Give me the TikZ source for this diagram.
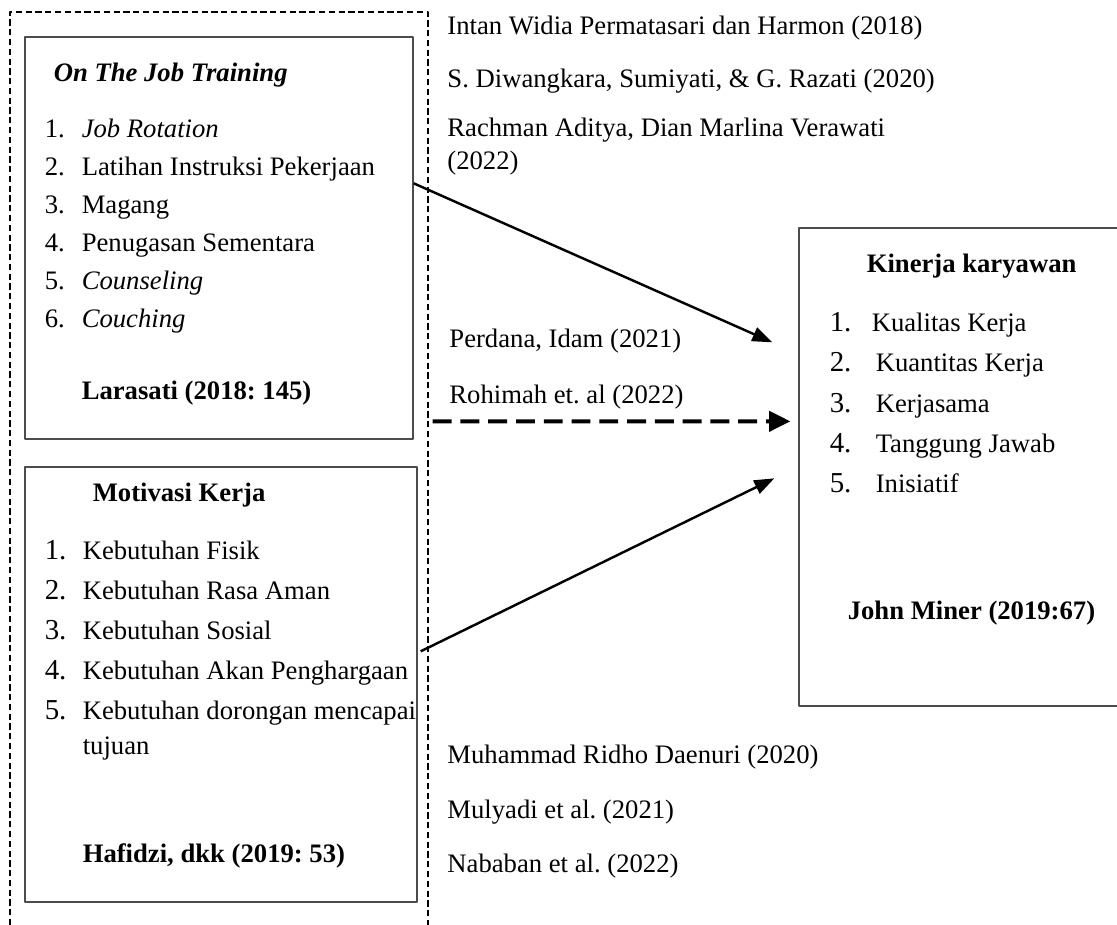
\documentclass[tikz,border=0pt]{standalone}
\usepackage{fontspec}
\setmainfont{Liberation Serif}
\usetikzlibrary{arrows.meta}
\frenchspacing
\newcommand{\nomor}[2]{\makebox[#1][l]{#2}}
\newcommand{\nomorb}[2]{\makebox[#1][l]{\fontsize{13}{15}\selectfont #2}}
\begin{document}
\begin{tikzpicture}[x=0.45pt,y=-0.45pt,font=\fontsize{12}{14}\selectfont,line join=round,
	kotak/.style={rectangle,draw=black!70,line width=0.6pt,inner sep=0},
	teks/.style={anchor=base west,inner sep=0},
	panah/.style={line width=1.1pt,-{Triangle[length=9pt,width=6.5pt]}}]
	\useasboundingbox (0,0) rectangle (1117,925);
	%Bingkai putus-putus
	\draw[line width=0.9pt,dash pattern=on 2.8pt off 1.6pt](10,935)--(10,12)--(428,12)--(428,935);
	%Kotak
	\path(219,238)node[kotak,minimum width=174.6pt,minimum height=180.9pt](ojt){}
	(221,684.5)node[kotak,minimum width=176.4pt,minimum height=195.75pt](mot){}
	(960,467)node[kotak,minimum width=144.9pt,minimum height=215.1pt](kin){}
	;
	\path%Kotak 1
	(ojt.north west)++(29,45)node[teks](o0){\textbf{\textit{On The Job Training}}}
	(ojt.north west)++(20,101)node[teks](o1){\nomor{16.65pt}{1.}\textit{Job Rotation}}
	(ojt.north west)++(20,139)node[teks](o2){\nomor{16.65pt}{2.}Latihan Instruksi Pekerjaan}
	(ojt.north west)++(20,177)node[teks](o3){\nomor{16.65pt}{3.}Magang}
	(ojt.north west)++(20,215)node[teks](o4){\nomor{16.65pt}{4.}Penugasan Sementara}
	(ojt.north west)++(20,253)node[teks](o5){\nomor{16.65pt}{5.}\textit{Counseling}}
	(ojt.north west)++(20,291)node[teks](o6){\nomor{16.65pt}{6.}\textit{Couching}}
	(ojt.north west)++(57,363)node[teks](o7){\textbf{Larasati (2018: 145)}}
	;
	\path%Kotak 2
	(mot.north west)++(68,35)node[teks](m0){\textbf{Motivasi Kerja}}
	(mot.north west)++(20,93)node[teks](m1){\nomorb{17.1pt}{1.}Kebutuhan Fisik}
	(mot.north west)++(20,133)node[teks](m2){\nomorb{17.1pt}{2.}Kebutuhan Rasa Aman}
	(mot.north west)++(20,173)node[teks](m3){\nomorb{17.1pt}{3.}Kebutuhan Sosial}
	(mot.north west)++(20,213)node[teks](m4){\nomorb{17.1pt}{4.}Kebutuhan Akan Penghargaan}
	(mot.north west)++(20,253)node[teks](m5){\nomorb{17.1pt}{5.}Kebutuhan dorongan mencapai}
	(mot.north west)++(58,288)node[teks](m5b){tujuan}
	(mot.north west)++(58,396)node[teks](m6){\textbf{Hafidzi, dkk (2019: 53)}}
	;
	\path%Kotak 3
	(kin.north west)++(68,45)node[teks](k0){\textbf{Kinerja karyawan}}
	(kin.north west)++(31,104)node[teks](k1){\nomorb{18.9pt}{1.}Kualitas Kerja}
	(kin.north west)++(31,144)node[teks](k2){\nomorb{20.7pt}{2.}Kuantitas Kerja}
	(kin.north west)++(31,185)node[teks](k3){\nomorb{20.7pt}{3.}Kerjasama}
	(kin.north west)++(31,225)node[teks](k4){\nomorb{20.7pt}{4.}Tanggung Jawab}
	(kin.north west)++(31,265)node[teks](k5){\nomorb{20.7pt}{5.}Inisiatif}
	(kin.north west)++(49,392)node[teks](k6){\textbf{John Miner (2019:67)}}
	;
	\path%Rujukan atas
	(447,35)node[teks](r1){Intan Widia Permatasari dan Harmon (2018)}
	(r1.base west)++(0,53)node[teks](r2){S. Diwangkara, Sumiyati, \& G. Razati (2020)}
	(r2.base west)++(0,49)node[teks](r3){Rachman Aditya, Dian Marlina Verawati}
	(r3.base west)++(0,33)node[teks](r3b){(2022)}
	;
	\path%Rujukan tengah
	(449,348)node[teks](r4){Perdana, Idam (2021)}
	(r4.base west)++(0,55)node[teks](r5){Rohimah et. al (2022)}
	;
	\path%Rujukan bawah
	(447,763)node[teks](r6){Muhammad Ridho Daenuri (2020)}
	(r6.base west)++(0,55)node[teks](r7){Mulyadi et al. (2021)}
	(r7.base west)++(0,54)node[teks](r8){Nababan et al. (2022)}
	;
	%Panah
	\path(ojt.north east)++(0,147)coordinate(p1)
	(kin.north west)++(-26,115)coordinate(q1)
	(ojt.north east)++(19,385)coordinate(p2)
	(kin.north west)++(-8,194)coordinate(q2)
	(mot.north east)++(3,185)coordinate(p3)
	(kin.north west)++(-24,251)coordinate(q3);
	\draw[panah](p1)--(q1);
	\draw[line width=1.8pt,dash pattern=on 8.5pt off 4pt,-{Triangle[length=9.5pt,width=9pt]}](p2)--(q2);
	\draw[panah](p3)--(q3);
\end{tikzpicture}
\end{document}
